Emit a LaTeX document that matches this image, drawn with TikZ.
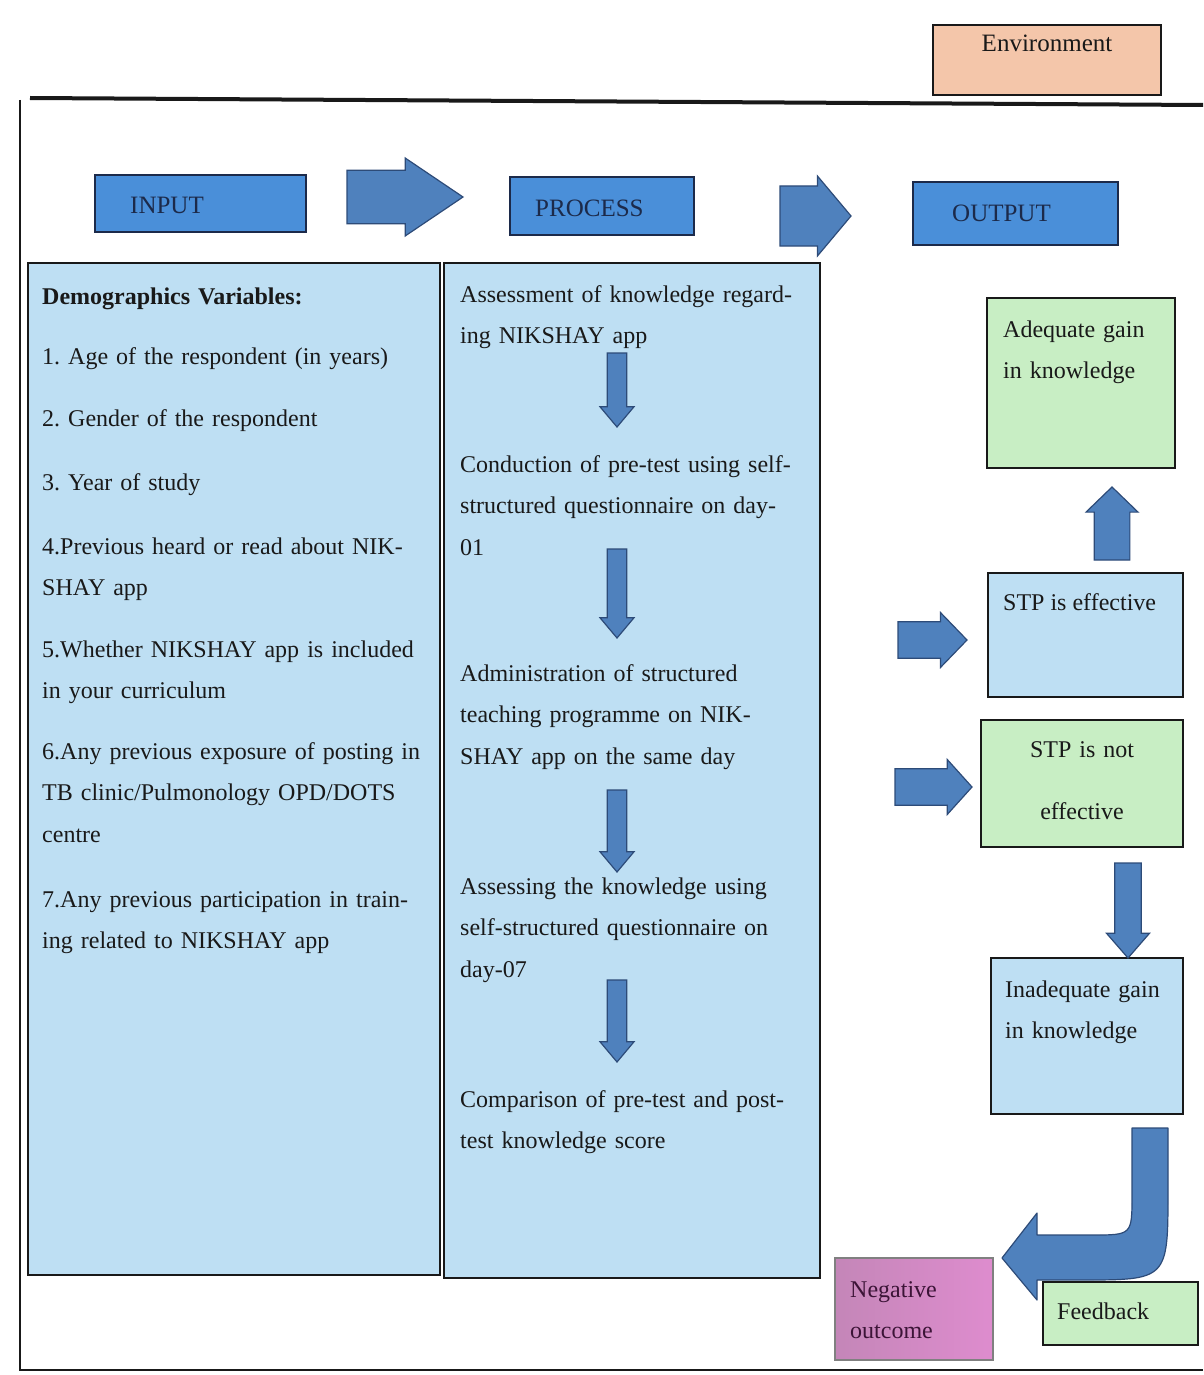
\documentclass[tikz,border=0pt]{standalone}
\usepackage{fontspec}
\setmainfont{Liberation Serif}
\usepackage{xcolor}
\usepackage{tikz}
\usetikzlibrary{shapes.arrows}
\frenchspacing

\definecolor{headblue}{RGB}{74,143,217}
\definecolor{navy}{RGB}{28,42,74}
\definecolor{paleblue}{RGB}{190,223,243}
\definecolor{palegreen}{RGB}{200,238,196}
\definecolor{peach}{RGB}{244,198,170}
\definecolor{arrowblue}{RGB}{79,129,189}
\definecolor{arrowedge}{RGB}{45,75,120}
\definecolor{inkgray}{RGB}{25,25,25}
\definecolor{mauve}{RGB}{196,134,184}
\definecolor{orchid}{RGB}{222,140,206}
\definecolor{plum}{RGB}{60,20,55}

\begin{document}
\begin{tikzpicture}[x=1pt,y=-1pt,font=\fontsize{24}{41.5}\selectfont,text=inkgray]
  \tikzstyle{box}=[draw=inkgray,line width=1.8pt,inner sep=0,outer sep=0]
  \tikzstyle{titlebox}=[box,draw=navy,fill=headblue]
  \tikzstyle{listbox}=[box,fill=paleblue]
  \tikzstyle{greenbox}=[box,fill=palegreen]
  \tikzstyle{txt}=[anchor=base west,inner sep=0,align=left]
  \tikzstyle{titletxt}=[txt,text=navy,font=\fontsize{25}{30}\selectfont]
  \tikzstyle{blockarrow}=[single arrow,draw=arrowedge,fill=arrowblue,line width=1.2pt,
    inner xsep=0,outer sep=0,anchor=tail]

  \useasboundingbox (0,0) rectangle (1203,1375);

  % Frame
  \draw[line width=4pt,inkgray] (30,98) -- (1203,105);
  \draw[line width=2pt,inkgray] (20,100) -- (20,1370) -- (1203,1370);

  % Nodes
  \node[box,fill=peach,minimum width=228,minimum height=70] (env) at (1047,60) {};
  \node[titlebox,minimum width=211,minimum height=57] (input) at (200.5,203.5) {};
  \node[titlebox,minimum width=184,minimum height=58] (process) at (602,206) {};
  \node[titlebox,minimum width=205,minimum height=63] (output) at (1015.5,213.5) {};
  \node[listbox,minimum width=412,minimum height=1012] (inlist) at (234,769) {};
  \node[listbox,minimum width=376,minimum height=1015] (proclist) at (632,770.5) {};
  \node[greenbox,minimum width=188,minimum height=170] (adequate) at (1081,383) {};
  \node[listbox,minimum width=195,minimum height=124] (stpyes) at (1085.5,635) {};
  \node[greenbox,minimum width=202,minimum height=127] (stpno) at (1082,783.5) {};
  \node[listbox,minimum width=192,minimum height=156] (inadequate) at (1087,1036) {};
  \node[box,draw=gray,left color=mauve,right color=orchid,
    minimum width=158,minimum height=102] (negative) at (914,1309) {};

  % Texts
  \node[anchor=base,font=\fontsize{25}{30}\selectfont] (envtxt) at (1047,52) {Environment};
  \node[titletxt] (intxt) at (130,213) {INPUT};
  \node[titletxt] (proctxt) at (535,216) {PROCESS};
  \node[titletxt] (outtxt) at (952,222) {OUTPUT};

  \node[txt,text width=420] (dem) at (42,304) {\textbf{Demographics Variables:}};
  \node[txt,text width=420] (var1) at (42,364) {1. Age of the respondent (in years)};
  \node[txt,text width=420] (var2) at (42,426) {2. Gender of the respondent};
  \node[txt,text width=420] (var3) at (42,490) {3. Year of study};
  \node[txt,text width=420] (var4) at (42,554) {4.Previous heard or read about NIK-\\SHAY app};
  \node[txt,text width=420] (var5) at (42,657) {5.Whether NIKSHAY app is included\\in your curriculum};
  \node[txt,text width=420] (var6) at (42,759) {6.Any previous exposure of posting in\\
    \makebox[378pt][s]{TB clinic/Pulmonology OPD/DOTS}\\centre};
  \node[txt,text width=420] (var7) at (42,907) {7.Any previous participation in train-\\ing related to NIKSHAY app};

  \node[txt,text width=360] (step1) at (460,302) {Assessment of knowledge regard-\\ing NIKSHAY app};
  \node[txt,text width=360] (step2) at (460,472) {Conduction of pre-test using self-\\structured questionnaire on day-\\01};
  \node[txt,text width=360] (step3) at (460,681) {Administration of structured\\teaching programme on NIK-\\SHAY app on the same day};
  \node[txt,text width=360] (step4) at (460,894) {Assessing the knowledge using\\self-structured questionnaire on\\day-07};
  \node[txt,text width=360] (step5) at (460,1107) {Comparison of pre-test and post-\\test knowledge score};

  \node[txt,text width=180] (adtxt) at (1003,337) {Adequate gain\\in knowledge};
  \node[txt] (yestxt) at (1003,610) {STP is effective};
  \node[anchor=base,inner sep=0,text width=200,align=center,
    font=\fontsize{24}{62}\selectfont] (notxt) at (1082,757) {STP is not\\effective};
  \node[txt,text width=180] (inadtxt) at (1005,997) {Inadequate gain\\in knowledge};
  \node[txt,text width=150,text=plum] (negtxt) at (850,1297) {Negative\\outcome};

  % Arrows
  \node[blockarrow,minimum height=116,minimum width=78,inner ysep=15,single arrow tip angle=68] (inproc) at (347,197) {};
  \node[blockarrow,minimum height=71,minimum width=80,inner ysep=21,single arrow tip angle=100] (procout) at (780,216) {};
  \node[blockarrow,rotate=-90,minimum height=74,minimum width=34,inner ysep=9,single arrow tip angle=80] (down1) at (617,353) {};
  \node[blockarrow,rotate=-90,minimum height=89,minimum width=34,inner ysep=9,single arrow tip angle=80] (down2) at (617,549) {};
  \node[blockarrow,rotate=-90,minimum height=82,minimum width=34,inner ysep=9,single arrow tip angle=80] (down3) at (617,790) {};
  \node[blockarrow,rotate=-90,minimum height=82,minimum width=34,inner ysep=9,single arrow tip angle=80] (down4) at (617,980) {};
  \node[blockarrow,minimum height=69,minimum width=55,inner ysep=13.5,single arrow tip angle=92] (toyes) at (898,640) {};
  \node[blockarrow,minimum height=77,minimum width=55,inner ysep=13.5,single arrow tip angle=96] (tono) at (895,787) {};
  \node[blockarrow,rotate=90,minimum height=73,minimum width=52,inner ysep=15,single arrow tip angle=92] (toadequate) at (1112,560) {};
  \node[blockarrow,rotate=-90,minimum height=95,minimum width=43,inner ysep=11,single arrow tip angle=82] (toinadequate) at (1128,863) {};

  % U-turn feedback arrow
  \draw[draw=arrowedge,fill=arrowblue,line width=1.2pt,line join=round]
    (1132,1128) -- (1132,1195) .. controls (1132,1235) .. (1092,1235) -- (1037,1235)
    -- (1037,1213) -- (1002,1258) -- (1037,1300) -- (1037,1280) -- (1080,1280)
    .. controls (1168,1280) .. (1168,1190) -- (1168,1128) -- cycle;

  \node[greenbox,minimum width=155,minimum height=63] (feedback) at (1120.5,1313.5) {};
  \node[txt] (fbtxt) at (1057,1319) {Feedback};
\end{tikzpicture}
\end{document}
